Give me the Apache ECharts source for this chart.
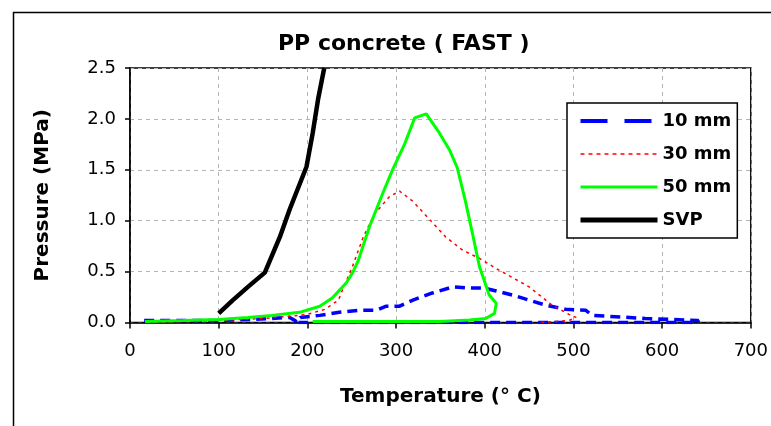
<!DOCTYPE html>
<html>
<head>
<meta charset="utf-8">
<script src="https://cdn.jsdelivr.net/npm/echarts@6/dist/echarts.min.js"></script>
<style>
  html, body { margin: 0; padding: 0; background: #fff; }
  #chart { width: 771px; height: 426px; }
</style>
</head>
<body>
<div id="chart"></div>
<script>
  // [temperature, pressure] in time order (curves loop back while cooling)
  const mm10 = [[16, 0.02], [60, 0.02], [100, 0.02], [140, 0.03], [160, 0.04], [180, 0.05], [186, 0.02], [188, 0.0],
    [192, 0.05], [214, 0.07], [236, 0.1], [259, 0.12], [278, 0.12], [289, 0.16], [304, 0.16], [319, 0.22], [341, 0.29],
    [364, 0.35], [380, 0.34], [398, 0.34], [413, 0.31], [431, 0.27], [450, 0.22], [469, 0.17], [491, 0.13], [514, 0.12],
    [521, 0.07], [540, 0.06], [581, 0.04], [641, 0.02], [640, 0.0], [500, 0.0], [390, 0.0], [250, 0.0], [190, 0.0]]
  const mm30 = [[20, 0.0], [100, 0.02], [150, 0.04], [178, 0.06], [200, 0.08], [220, 0.13], [235, 0.22], [242, 0.37],
    [250, 0.53], [263, 0.84], [276, 1.07], [293, 1.24], [304, 1.29], [319, 1.19], [338, 1.01], [356, 0.84], [375, 0.71],
    [394, 0.63], [413, 0.53], [450, 0.35], [476, 0.17], [495, 0.08], [503, 0.05], [495, 0.02], [480, 0.01], [461, 0.0]]
  const mm50 = [[17, 0.01], [60, 0.02], [62, 0.03], [100, 0.03], [133, 0.05], [160, 0.07], [191, 0.1], [214, 0.16],
    [228, 0.24], [244, 0.39], [251, 0.49], [257, 0.6], [270, 0.94], [285, 1.27], [296, 1.5], [310, 1.76], [321, 2.01],
    [334, 2.05], [349, 1.86], [360, 1.7], [369, 1.52], [378, 1.2], [386, 0.88], [394, 0.55], [405, 0.27], [413, 0.19],
    [411, 0.09], [401, 0.04], [383, 0.025], [349, 0.01], [280, 0.01], [206, 0.01]]
  const svp = [[100, 0.09], [116, 0.22], [133, 0.35], [152, 0.49], [169, 0.84], [180, 1.11], [199, 1.53], [206, 1.86],
    [212, 2.19], [219, 2.5]]

  const seriesNames = ['10 mm', '30 mm', '50 mm', 'SVP']

  const chart = echarts.init(document.getElementById('chart'))

  const gridLine = { show: true, lineStyle: { color: '#b4b4b4', type: [4, 4], width: 1 } }
  const axisLine = { show: true, lineStyle: { color: '#000', width: 1.5 } }

  chart.setOption({
    animation: false,
    backgroundColor: '#fff',
    graphic: [{
      type: 'rect', left: 11, top: 10,
      shape: { width: 800, height: 500 },
      style: { fill: 'none', stroke: '#000', lineWidth: 1.5 }
    }],
    title: {
      text: 'PP concrete ( FAST )',
      left: 273, top: 28,
      textStyle: { fontFamily: 'DejaVu Sans', fontWeight: 'bold', fontSize: 22, color: '#000' }
    },
    legend: {
      data: [
        { name: seriesNames[0], lineStyle: { width: 4, type: [27, 17] } },
        { name: seriesNames[1], lineStyle: { width: 1.5, type: [4, 4] } },
        { name: seriesNames[2], lineStyle: { width: 3 } },
        { name: seriesNames[3], lineStyle: { width: 5 } }
      ],
      orient: 'vertical',
      left: 567, top: 103,
      padding: [9, 6, 9, 11],
      itemGap: 15,
      itemWidth: 77,
      itemHeight: 14,
      itemStyle: { opacity: 0 },
      backgroundColor: '#fff',
      borderColor: '#000',
      borderWidth: 1.5,
      borderRadius: 0,
      textStyle: { fontFamily: 'DejaVu Sans', fontWeight: 'bold', fontSize: 18, color: '#000' }
    },
    grid: {
      left: 130, right: 18, top: 68, bottom: 103.5,
      show: true, borderColor: '#000', borderWidth: 1.5
    },
    xAxis: {
      type: 'value', min: 0, max: 700, interval: 100,
      name: 'Temperature (° C)', nameLocation: 'middle', nameGap: 64,
      nameTextStyle: { fontFamily: 'DejaVu Sans', fontWeight: 'bold', fontSize: 20, color: '#000' },
      axisLine: axisLine,
      axisTick: { show: true, length: 6, lineStyle: { color: '#000', width: 1.5 } },
      axisLabel: { margin: 20, fontFamily: 'DejaVu Sans', fontSize: 18, color: '#000' },
      splitLine: gridLine
    },
    yAxis: {
      type: 'value', min: 0, max: 2.5, interval: 0.5,
      name: 'Pressure (MPa)', nameLocation: 'middle', nameGap: 77,
      nameTextStyle: { fontFamily: 'DejaVu Sans', fontWeight: 'bold', fontSize: 20, color: '#000' },
      axisLine: axisLine,
      axisTick: { show: true, length: 5, lineStyle: { color: '#000', width: 1.5 } },
      axisLabel: {
        margin: 14, fontFamily: 'DejaVu Sans', fontSize: 18, color: '#000',
        formatter: v => v.toFixed(1)
      },
      splitLine: gridLine
    },
    series: [
      { name: seriesNames[0], type: 'line', data: mm10, symbol: 'none', color: '#0000ff',
        lineStyle: { color: '#0000ff', width: 3.5, type: [10, 6] } },
      { name: seriesNames[1], type: 'line', data: mm30, symbol: 'none', color: '#ff0000',
        lineStyle: { color: '#ff0000', width: 1.5, type: [3, 4] } },
      { name: seriesNames[2], type: 'line', data: mm50, symbol: 'none', color: '#00ff00',
        lineStyle: { color: '#00ff00', width: 3 } },
      { name: seriesNames[3], type: 'line', data: svp, symbol: 'none', color: '#000',
        lineStyle: { color: '#000', width: 4.5 } }
    ]
  })
</script>
</body>
</html>
